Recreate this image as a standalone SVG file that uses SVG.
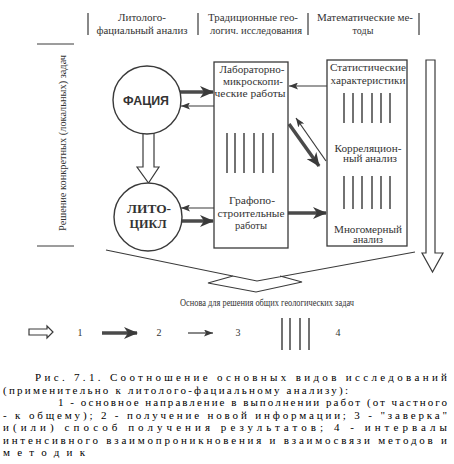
<svg xmlns="http://www.w3.org/2000/svg" width="454" height="464" viewBox="0 0 454 464">
<style>
.t{font-family:'Liberation Serif','DejaVu Serif',serif;fill:#333;font-size:10px;text-anchor:middle}
.cap{font-family:'Liberation Serif','DejaVu Serif',serif;fill:#000;font-size:11px}
.ln{stroke:#3a3a3a;fill:none}
.box{fill:#fff;stroke:#3a3a3a;stroke-width:1.3}
.hol{fill:#fff;stroke:#3a3a3a;stroke-width:1.2}
.thk{stroke:#4a4a4a;stroke-width:3.5;fill:none}
.thn{stroke:#3a3a3a;stroke-width:1.2;fill:none}
.hat{stroke:#444;stroke-width:1.5}
.bs{font-family:'Liberation Serif','DejaVu Serif',serif;font-weight:bold;font-size:13px;fill:#333;text-anchor:middle}
</style>
<defs>
<marker id="mk" markerUnits="userSpaceOnUse" markerWidth="14" markerHeight="12" refX="13" refY="6" orient="auto"><path d="M0,0 L14,6 L0,12 L4,6 z" fill="#3a3a3a"/></marker>
<marker id="ms" markerUnits="userSpaceOnUse" markerWidth="9" markerHeight="7" refX="9" refY="3.5" orient="auto"><path d="M0,0 L9,3.5 L0,7 L2,3.5 z" fill="#3a3a3a"/></marker>
</defs>
<rect width="454" height="464" fill="#fff"/>
<g id="header">
<path class="ln" d="M88,13V35M198,13V35M308,13V35M419,13V35" stroke-width="1.2"/>
<text class="t" x="142" y="21" textLength="48" lengthAdjust="spacingAndGlyphs">Литолого-</text>
<text class="t" x="142" y="34" textLength="91" lengthAdjust="spacingAndGlyphs">фациальный анализ</text>
<text class="t" x="253" y="21" textLength="90" lengthAdjust="spacingAndGlyphs">Традиционные гео-</text>
<text class="t" x="256" y="34" textLength="92" lengthAdjust="spacingAndGlyphs">логич. исследования</text>
<text class="t" x="365" y="21" textLength="96" lengthAdjust="spacingAndGlyphs">Математические ме-</text>
<text class="t" x="363" y="34">тоды</text>
</g>
<g id="side">
<path class="ln" d="M37,44H74M37,246H74" stroke-width="1"/>
<text class="t" transform="translate(66,143) rotate(-90)" textLength="176" lengthAdjust="spacingAndGlyphs">Решение конкретных (локальных) задач</text>
</g>
<g id="connectors">
<polygon class="hol" points="143,132 154,132 154,167 159,167 148.5,183 137,167 143,167"/>
<line class="thk" x1="178" y1="92" x2="213" y2="92" marker-end="url(#mk)"/>
<line class="thn" x1="214" y1="106" x2="181" y2="106" marker-end="url(#ms)"/>
<line class="thn" x1="214" y1="208" x2="181" y2="208" marker-end="url(#ms)"/>
<line class="thk" x1="180" y1="221" x2="213" y2="221" marker-end="url(#mk)"/>
<line class="thn" x1="327" y1="86" x2="289" y2="86" marker-end="url(#ms)"/>
<line class="thk" x1="289" y1="124" x2="319" y2="166" marker-end="url(#mk)"/>
<line class="thn" x1="326" y1="161" x2="296" y2="118" marker-end="url(#ms)"/>
<line class="thk" x1="288" y1="213" x2="326" y2="213" marker-end="url(#mk)"/>
<polygon class="hol" points="426,60 435,60 435,253 443,253 432.5,272 422,253 426,253"/>
<path class="ln" stroke-width="1.2" d="M106,250 L257,281 L415,252 M233,276 L208,283 L256,292 L302,282 L280,276"/>
</g>
<g id="facia">
<circle cx="147" cy="100" r="34" fill="#fff" stroke="#3a3a3a" stroke-width="1.4"/>
<text x="146" y="105" font-family="'Liberation Sans','DejaVu Sans',sans-serif" font-weight="bold" font-size="12" fill="#333" text-anchor="middle" textLength="46" lengthAdjust="spacingAndGlyphs">ФАЦИЯ</text>
</g>
<g id="litocikl">
<circle cx="148" cy="217" r="34" fill="#fff" stroke="#3a3a3a" stroke-width="1.4"/>
<text class="bs" x="149" y="213" textLength="44" lengthAdjust="spacingAndGlyphs">ЛИТО-</text>
<text class="bs" x="148" y="228" textLength="37" lengthAdjust="spacingAndGlyphs">ЦИКЛ</text>
</g>
<g id="lab">
<rect class="box" x="214" y="62" width="74" height="186"/>
<text class="t" x="252" y="73" textLength="65" lengthAdjust="spacingAndGlyphs">Лабораторно-</text>
<text class="t" x="253" y="85" textLength="60" lengthAdjust="spacingAndGlyphs">микроскопи-</text>
<text class="t" x="250" y="97" textLength="71" lengthAdjust="spacingAndGlyphs">ческие работы</text>
<path class="hat" d="M227,133V173M235,133V173M244,133V173M254,133V173M263,133V173M273,133V173"/>
<text class="t" x="252" y="204" textLength="46" lengthAdjust="spacingAndGlyphs">Графопо-</text>
<text class="t" x="251" y="217" textLength="67" lengthAdjust="spacingAndGlyphs">строительные</text>
<text class="t" x="251" y="229" textLength="32" lengthAdjust="spacingAndGlyphs">работы</text>
</g>
<g id="math">
<rect class="box" x="327" y="60" width="80" height="186"/>
<text class="t" x="368" y="71" textLength="76" lengthAdjust="spacingAndGlyphs">Статистические</text>
<text class="t" x="368" y="84" textLength="75" lengthAdjust="spacingAndGlyphs">характеристики</text>
<path class="hat" d="M344,93V123M353,93V123M362,93V123M372,93V123M381,93V123M390,93V123"/>
<text class="t" x="368" y="152" textLength="67" lengthAdjust="spacingAndGlyphs">Корреляцион-</text>
<text class="t" x="370" y="162" textLength="54" lengthAdjust="spacingAndGlyphs">ный анализ</text>
<path class="hat" d="M344,176V209M353,176V209M362,176V209M372,176V209M381,176V209M390,176V209"/>
<text class="t" x="368" y="233" textLength="68" lengthAdjust="spacingAndGlyphs">Многомерный</text>
<text class="t" x="368" y="243" textLength="30" lengthAdjust="spacingAndGlyphs">анализ</text>
</g>
<g id="base">
<text class="t" x="267" y="306" textLength="174" lengthAdjust="spacingAndGlyphs">Основа для решения общих геологических задач</text>
</g>
<g id="legend">
<polygon class="hol" points="29,329 47,329 47,326 53,332 47,338 47,335 29,335"/>
<text class="t" x="80" y="336">1</text>
<line class="thk" x1="102" y1="333" x2="137" y2="333" marker-end="url(#mk)"/>
<text class="t" x="159" y="336">2</text>
<line class="thn" x1="188" y1="333" x2="213" y2="333" marker-end="url(#ms)"/>
<text class="t" x="238" y="336">3</text>
<path class="hat" d="M282,318V350M290,318V350M300,318V350M309,318V350"/>
<text class="t" x="338" y="336">4</text>
</g>
<g id="caption">
<text class="cap" x="35" y="381" textLength="412" lengthAdjust="spacing">Рис. 7.1. Соотношение основных видов исследований</text>
<text class="cap" x="3" y="393.5" textLength="345" lengthAdjust="spacing">(применительно к литолого-фациальному анализу):</text>
<text class="cap" x="58" y="406" textLength="389" lengthAdjust="spacing">1 - основное направление в выполнении работ (от частного</text>
<text class="cap" x="3" y="418.5" textLength="444" lengthAdjust="spacing">- к общему); 2 - получение новой информации; 3 - "заверка"</text>
<text class="cap" x="3" y="431" textLength="444" lengthAdjust="spacing">и(или) способ получения результатов; 4 - интервалы</text>
<text class="cap" x="3" y="443.5" textLength="444" lengthAdjust="spacing">интенсивного взаимопроникновения и взаимосвязи методов и</text>
<text class="cap" x="3" y="456" textLength="82" lengthAdjust="spacing">методик</text>
</g>
</svg>
